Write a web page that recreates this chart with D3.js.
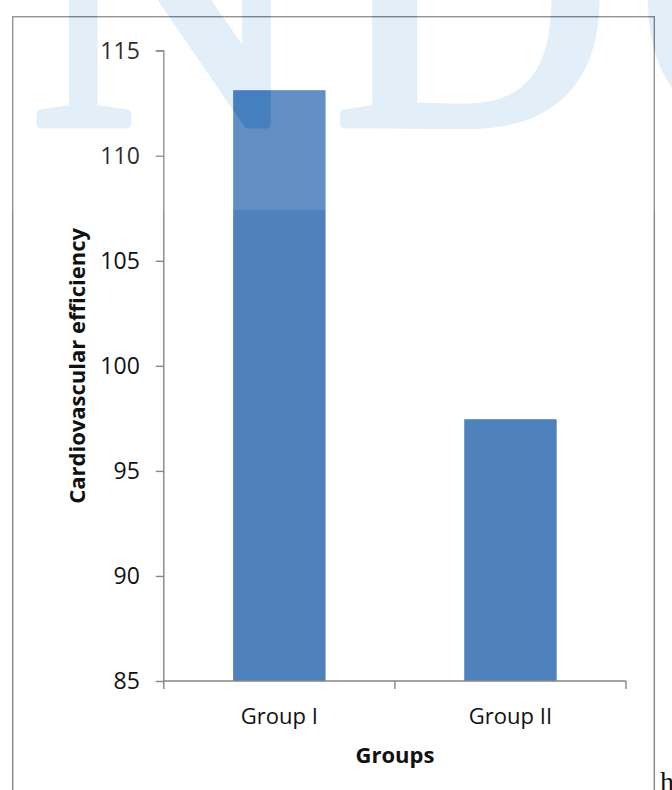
<!DOCTYPE html>
<html>
<head>
<meta charset="utf-8">
<script src="https://cdn.jsdelivr.net/npm/d3@7"></script>
<style>
  html, body { margin: 0; padding: 0; background: #fff; }
  svg { display: block; }
</style>
</head>
<body>
<svg id="chart" width="672" height="790"></svg>
<script>
const categories = ["Group I", "Group II"];
const values = [113.12, 97.46];
const yTicks = [85, 90, 95, 100, 105, 110, 115];
const yDomain = [85, 115];
const xTitle = "Groups";
const yTitle = "Cardiovascular efficiency";
const watermarkText = "NDO";

const svg = d3.select("#chart");
const W = 672, H = 790;
const plot = { left: 163.8, right: 626, top: 50.7, bottom: 681 };
const axisColor = "#868686";
const barColor = "#4f81bd";
const font = "'Open Sans', 'Noto Sans', sans-serif";

// outer chart border
svg.append("rect")
  .attr("x", 12.7).attr("y", 16.7)
  .attr("width", 654.3 - 12.7).attr("height", 900)
  .attr("fill", "none").attr("stroke", axisColor).attr("stroke-width", 1.4);

const x = d3.scaleBand().domain(categories)
  .range([plot.left, plot.right]).paddingInner(0.6).paddingOuter(0.3);
const y = d3.scaleLinear().domain(yDomain).range([plot.bottom, plot.top]);

// bars
svg.append("g").selectAll("rect").data(values).join("rect")
  .attr("x", (d, i) => x(categories[i]))
  .attr("width", x.bandwidth())
  .attr("y", d => y(d))
  .attr("height", d => y(yDomain[0]) - y(d))
  .attr("fill", barColor);

// y axis
const yAxis = svg.append("g")
  .attr("transform", `translate(${plot.left},0)`)
  .call(d3.axisLeft(y).tickValues(yTicks).tickSize(8).tickPadding(16).tickFormat(d3.format("d")));
yAxis.select(".domain").attr("stroke", axisColor).attr("stroke-width", 1.4)
  .attr("d", `M-8,${plot.top}H0V${plot.bottom}`);
yAxis.selectAll(".tick line").attr("stroke", axisColor).attr("stroke-width", 1.4);
yAxis.selectAll(".tick text").attr("font-family", font).attr("font-size", 23).attr("fill", "#111");

// x axis (labels centered, tick marks at category boundaries)
const xAxis = svg.append("g")
  .attr("transform", `translate(0,${plot.bottom})`)
  .call(d3.axisBottom(x).tickSize(0).tickPadding(27));
xAxis.select(".domain").attr("stroke", axisColor).attr("stroke-width", 1.4)
  .attr("d", `M${plot.left},0H${plot.right}`);
xAxis.selectAll(".tick text").attr("font-family", font).attr("font-size", 22).attr("fill", "#111");
const boundaries = [plot.left].concat(categories.map(c => x(c) + x.bandwidth() + x.step() * x.paddingInner() / 2));
boundaries[boundaries.length - 1] = plot.right;
xAxis.selectAll("line.bnd").data(boundaries).join("line")
  .attr("class", "bnd")
  .attr("x1", d => d).attr("x2", d => d)
  .attr("y1", 0).attr("y2", 8)
  .attr("stroke", axisColor).attr("stroke-width", 1.4);

// axis titles
svg.append("text")
  .attr("x", (plot.left + plot.right) / 2).attr("y", 763)
  .attr("text-anchor", "middle")
  .attr("font-family", font).attr("font-size", 22).attr("font-weight", "bold").attr("fill", "#111")
  .text(xTitle);
svg.append("text")
  .attr("transform", `translate(85,${(plot.top + plot.bottom) / 2}) rotate(-90)`)
  .attr("text-anchor", "middle")
  .attr("font-family", font).attr("font-size", 22).attr("font-weight", "bold").attr("fill", "#111")
  .text(yTitle);

// stray document text at bottom right
svg.append("text")
  .attr("x", 660).attr("y", 791)
  .attr("font-family", "'Liberation Serif', 'DejaVu Serif', serif").attr("font-size", 28).attr("fill", "#111")
  .text("h");

// watermark overlay
const wmFont = "'Liberation Serif', 'DejaVu Serif', serif";
const wmAttrs = sel => sel
  .attr("x", 30).attr("y", 124)
  .attr("font-family", wmFont)
  .attr("font-size", 384).attr("letter-spacing", 26)
  .attr("stroke-width", 9).attr("stroke-linejoin", "round")
  .text(watermarkText);
const defs = svg.append("defs");
const mask = defs.append("mask").attr("id", "wmMask");
mask.append("rect").attr("x", 0).attr("y", 0).attr("width", W).attr("height", 210).attr("fill", "#fff");
mask.append("text").call(wmAttrs).attr("fill", "#000").attr("stroke", "#000");
const wm = svg.append("g").attr("pointer-events", "none");
wm.append("rect").attr("x", 0).attr("y", 0).attr("width", W).attr("height", 210)
  .attr("fill", "#fff").attr("fill-opacity", 0.11).attr("mask", "url(#wmMask)");
wm.append("g").attr("opacity", 0.11)
  .append("text").call(wmAttrs)
  .attr("fill", "rgb(0,120,210)").attr("stroke", "rgb(0,120,210)");
</script>
</body>
</html>
